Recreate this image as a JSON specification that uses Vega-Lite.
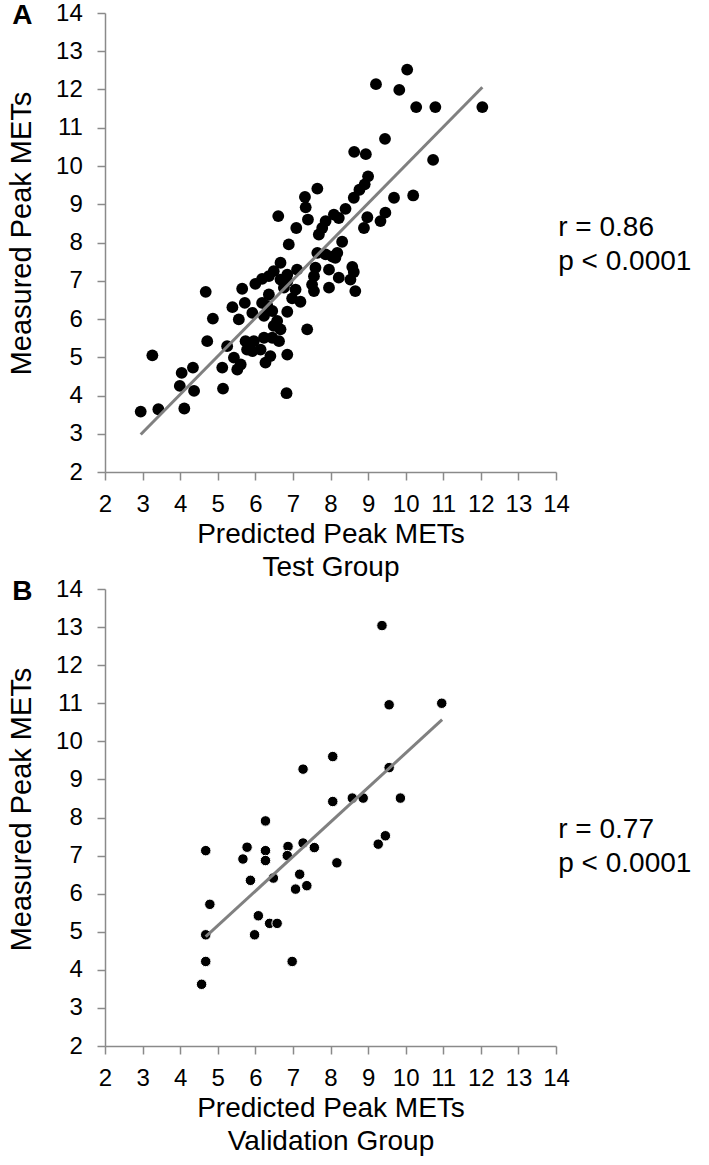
{
  "$schema": "https://vega.github.io/schema/vega-lite/v6.json",
  "background": "white",
  "padding": {"left": 7, "top": 1, "right": 0, "bottom": 0},
  "spacing": 117,
  "bounds": "flush",
  "config": {
    "font": "Liberation Sans",
    "view": {"stroke": null},
    "axis": {
      "grid": false,
      "domainColor": "#8a8a8a",
      "domainWidth": 1.5,
      "tickColor": "#8a8a8a",
      "tickWidth": 1.5,
      "tickSize": 8,
      "labelFontSize": 24,
      "labelColor": "#000000",
      "labelFont": "Liberation Sans Narrow, Liberation Sans",
      "titleFont": "Liberation Sans",
      "titleColor": "#000000",
      "titleFontWeight": "normal",
      "labelOverlap": false,
      "labelFlush": false,
      "format": "d"
    }
  },
  "datasets": {
    "a": [
      {"x":10.04,"y":12.52},{"x":9.21,"y":12.14},{"x":9.83,"y":11.99},{"x":10.28,"y":11.54},{"x":10.79,"y":11.54},{"x":12.04,"y":11.54},{"x":9.45,"y":10.71},{"x":8.63,"y":10.37},{"x":8.94,"y":10.31},{"x":10.73,"y":10.16},
      {"x":9.00,"y":9.73},{"x":8.91,"y":9.52},{"x":8.77,"y":9.38},{"x":8.62,"y":9.17},{"x":9.69,"y":9.17},{"x":10.20,"y":9.23},{"x":8.40,"y":8.88},{"x":8.09,"y":8.73},{"x":8.98,"y":8.66},{"x":8.89,"y":8.38},
      {"x":9.46,"y":8.78},{"x":9.33,"y":8.56},{"x":8.31,"y":8.02},{"x":8.18,"y":7.73},{"x":8.13,"y":7.60},{"x":8.58,"y":7.36},{"x":8.62,"y":7.23},{"x":8.22,"y":7.08},{"x":8.53,"y":7.03},{"x":8.66,"y":6.73},
      {"x":7.65,"y":9.41},{"x":7.32,"y":9.19},{"x":7.34,"y":8.92},{"x":7.40,"y":8.60},{"x":6.61,"y":8.69},{"x":7.09,"y":8.38},{"x":6.89,"y":7.95},{"x":7.78,"y":8.38},{"x":7.87,"y":8.56},{"x":7.69,"y":8.21},
      {"x":8.22,"y":8.64},{"x":7.65,"y":7.73},{"x":7.87,"y":7.69},{"x":8.05,"y":7.63},{"x":6.67,"y":7.47},{"x":6.49,"y":7.25},{"x":6.36,"y":7.12},{"x":7.11,"y":7.29},{"x":6.85,"y":7.16},{"x":6.67,"y":7.03},
      {"x":7.60,"y":7.34},{"x":7.56,"y":7.12},{"x":7.51,"y":6.90},{"x":7.56,"y":6.73},{"x":7.96,"y":7.29},{"x":7.96,"y":6.82},{"x":6.00,"y":6.92},{"x":5.65,"y":6.79},{"x":4.68,"y":6.71},{"x":6.18,"y":7.05},
      {"x":6.36,"y":6.64},{"x":7.07,"y":6.77},{"x":6.98,"y":6.54},{"x":7.20,"y":6.45},{"x":6.85,"y":6.99},{"x":6.76,"y":6.82},{"x":5.39,"y":6.31},{"x":5.72,"y":6.42},{"x":6.18,"y":6.42},{"x":6.32,"y":6.34},
      {"x":4.87,"y":6.01},{"x":5.56,"y":5.99},{"x":5.92,"y":6.16},{"x":6.23,"y":6.08},{"x":6.45,"y":6.21},{"x":6.85,"y":6.19},{"x":6.58,"y":5.95},{"x":6.67,"y":5.73},{"x":6.49,"y":5.82},{"x":7.38,"y":5.73},
      {"x":4.72,"y":5.42},{"x":5.25,"y":5.29},{"x":5.74,"y":5.42},{"x":5.96,"y":5.42},{"x":5.78,"y":5.20},{"x":6.23,"y":5.51},{"x":6.45,"y":5.51},{"x":6.63,"y":5.42},{"x":6.14,"y":5.20},{"x":5.92,"y":5.16},
      {"x":6.85,"y":5.07},{"x":5.43,"y":4.99},{"x":5.61,"y":4.81},{"x":5.52,"y":4.68},{"x":6.27,"y":4.86},{"x":6.40,"y":5.03},{"x":5.12,"y":4.73},{"x":4.34,"y":4.73},{"x":5.14,"y":4.18},{"x":4.37,"y":4.12},
      {"x":6.83,"y":4.06},{"x":3.26,"y":5.05},{"x":4.04,"y":4.59},{"x":3.99,"y":4.25},{"x":2.95,"y":3.58},{"x":3.42,"y":3.64},{"x":4.11,"y":3.66}
    ],
    "b": [
      {"x":9.37,"y":13.04},{"x":9.56,"y":10.96},{"x":10.96,"y":11.00},{"x":8.06,"y":9.60},{"x":7.27,"y":9.27},{"x":9.56,"y":9.31},{"x":8.06,"y":8.42},{"x":8.58,"y":8.51},{"x":8.87,"y":8.51},{"x":9.86,"y":8.51},
      {"x":6.27,"y":7.91},{"x":9.46,"y":7.52},{"x":9.27,"y":7.30},{"x":4.68,"y":7.13},{"x":5.78,"y":7.22},{"x":5.67,"y":6.91},{"x":6.27,"y":7.13},{"x":6.27,"y":6.87},{"x":6.87,"y":7.24},{"x":6.85,"y":7.00},
      {"x":7.27,"y":7.33},{"x":7.57,"y":7.21},{"x":8.17,"y":6.81},{"x":5.87,"y":6.35},{"x":6.48,"y":6.41},{"x":7.18,"y":6.51},{"x":7.37,"y":6.21},{"x":7.07,"y":6.12},{"x":4.79,"y":5.72},{"x":6.08,"y":5.42},
      {"x":6.38,"y":5.22},{"x":6.58,"y":5.22},{"x":4.68,"y":4.92},{"x":5.98,"y":4.92},{"x":4.68,"y":4.22},{"x":6.98,"y":4.22},{"x":4.57,"y":3.62}
    ],
    "lineA": [{"x":2.95,"y":2.98},{"x":12.04,"y":12.06}],
    "lineB": [{"x":4.68,"y":4.87},{"x":10.97,"y":10.57}],
    "textA": [{"x":14.06,"y":8.17,"t":"r = 0.86"},{"x":14.06,"y":7.29,"t":"p < 0.0001"}],
    "textB": [{"x":14.06,"y":7.45,"t":"r = 0.77"},{"x":14.06,"y":6.57,"t":"p < 0.0001"}],
    "letterA": [{"x":-0.47,"y":13.71,"t":"A"}],
    "letterB": [{"x":-0.47,"y":13.71,"t":"B"}]
  },
  "vconcat": [
    {
      "width": 451,
      "height": 459,
      "encoding": {
        "x": {"field": "x", "type": "quantitative",
          "scale": {"domain": [2, 14], "nice": false, "zero": false},
          "axis": {"values": [2,3,4,5,6,7,8,9,10,11,12,13,14], "tickCount": 30, "format": "d", "labelOverlap": false, "title": ["Predicted Peak METs", "Test Group"],
            "titleFontSize": 28, "titleLineHeight": 33, "titleY": 70.7, "titleBaseline": "alphabetic", "labelPadding": 12}},
        "y": {"field": "y", "type": "quantitative",
          "scale": {"domain": [2, 14], "nice": false, "zero": false},
          "axis": {"values": [2,3,4,5,6,7,8,9,10,11,12,13,14], "tickCount": 30, "format": "d", "labelOverlap": false, "title": "Measured Peak METs",
            "titleFontSize": 29, "titleAngle": -90, "titleBaseline": "alphabetic", "titleAlign": "center",
            "titleX": -75, "titleY": 220, "labelPadding": 14.7}}
      },
      "layer": [
        {
          "data": {"name": "a"},
          "mark": {"type": "circle", "size": 140, "color": "#000000", "opacity": 1}
        },
        {
          "data": {"name": "lineA"},
          "mark": {"type": "line", "color": "#808080", "strokeWidth": 3}
        },
        {
          "data": {"name": "textA"},
          "mark": {"type": "text", "align": "left", "baseline": "alphabetic", "fontSize": 28, "color": "#000000"},
          "encoding": {"text": {"field": "t"}}
        },
        {
          "data": {"name": "letterA"},
          "mark": {"type": "text", "align": "left", "baseline": "alphabetic", "fontSize": 28, "fontWeight": "bold", "color": "#000000"},
          "encoding": {"text": {"field": "t"}}
        }
      ]
    },
    {
      "width": 451,
      "height": 457,
      "encoding": {
        "x": {"field": "x", "type": "quantitative",
          "scale": {"domain": [2, 14], "nice": false, "zero": false},
          "axis": {"values": [2,3,4,5,6,7,8,9,10,11,12,13,14], "tickCount": 30, "format": "d", "labelOverlap": false, "title": ["Predicted Peak METs", "Validation Group"],
            "titleFontSize": 28, "titleLineHeight": 33, "titleY": 70.7, "titleBaseline": "alphabetic", "labelPadding": 12}},
        "y": {"field": "y", "type": "quantitative",
          "scale": {"domain": [2, 14], "nice": false, "zero": false},
          "axis": {"values": [2,3,4,5,6,7,8,9,10,11,12,13,14], "tickCount": 30, "format": "d", "labelOverlap": false, "title": "Measured Peak METs",
            "titleFontSize": 29, "titleAngle": -90, "titleBaseline": "alphabetic", "titleAlign": "center",
            "titleX": -75, "titleY": 220, "labelPadding": 14.7}}
      },
      "layer": [
        {
          "data": {"name": "b"},
          "mark": {"type": "circle", "size": 110, "color": "#000000", "opacity": 1, "stroke": "#ffffff", "strokeWidth": 1}
        },
        {
          "data": {"name": "lineB"},
          "mark": {"type": "line", "color": "#808080", "strokeWidth": 3}
        },
        {
          "data": {"name": "textB"},
          "mark": {"type": "text", "align": "left", "baseline": "alphabetic", "fontSize": 28, "color": "#000000"},
          "encoding": {"text": {"field": "t"}}
        },
        {
          "data": {"name": "letterB"},
          "mark": {"type": "text", "align": "left", "baseline": "alphabetic", "fontSize": 28, "fontWeight": "bold", "color": "#000000"},
          "encoding": {"text": {"field": "t"}}
        }
      ]
    }
  ]
}
